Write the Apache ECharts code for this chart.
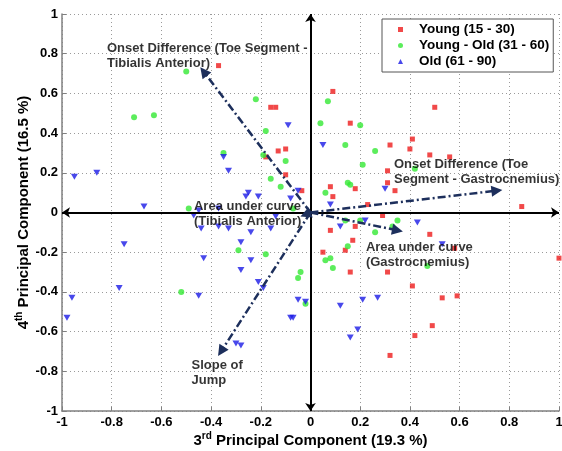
<!DOCTYPE html>
<html>
<head>
<meta charset="utf-8">
<script src="https://cdn.jsdelivr.net/npm/echarts@6/dist/echarts.min.js"></script>
<style>
  html, body { margin: 0; padding: 0; background: #fff; }
  #chart { width: 562px; height: 451px; }
</style>
</head>
<body>
<div id="chart"></div>
<script>
// PC3 / PC4 scores
var young = [
  [-0.37, 0.74], [-0.16, 0.53], [-0.14, 0.53], [-0.18, 0.28], [-0.13, 0.31],
  [-0.10, 0.32], [-0.10, 0.19], [-0.035, 0.11], [0.09, 0.61], [0.50, 0.53],
  [0.16, 0.45], [0.32, 0.34], [0.41, 0.37], [0.40, 0.32], [0.48, 0.29],
  [0.56, 0.28], [0.31, 0.21], [0.31, 0.15], [0.34, 0.11], [0.08, 0.13],
  [0.18, 0.12], [0.09, 0.08], [0.23, 0.04], [0.85, 0.03], [0.29, -0.015],
  [0.08, -0.09], [0.18, -0.07], [0.48, -0.11], [0.17, -0.14], [0.14, -0.19],
  [0.58, -0.18], [0.05, -0.20], [0.16, -0.30], [0.31, -0.30], [1.0, -0.23],
  [0.41, -0.37], [0.53, -0.43], [0.59, -0.42], [0.49, -0.57], [0.42, -0.62],
  [0.32, -0.72]
];
var youngOld = [
  [-0.50, 0.71], [-0.71, 0.48], [-0.63, 0.49], [-0.22, 0.57], [-0.18, 0.41],
  [-0.35, 0.30], [-0.19, 0.29], [-0.10, 0.26], [-0.16, 0.17], [-0.12, 0.13],
  [-0.49, 0.02], [-0.07, 0.02], [0.07, 0.56], [0.04, 0.45], [0.20, 0.44],
  [0.14, 0.34], [0.26, 0.31], [0.21, 0.24], [0.42, 0.22], [0.15, 0.15],
  [0.16, 0.14], [0.06, 0.10], [0.14, -0.04], [0.20, -0.04], [0.35, -0.04],
  [0.33, -0.07], [0.26, -0.10], [0.15, -0.17], [0.06, -0.24], [0.08, -0.23],
  [0.09, -0.28], [0.47, -0.27], [-0.29, -0.19], [-0.18, -0.21], [-0.04, -0.30],
  [-0.05, -0.33], [-0.52, -0.40], [-0.02, -0.46]
];
var old = [
  [-0.09, 0.44], [-0.35, 0.28], [-0.33, 0.21], [-0.95, 0.18], [-0.86, 0.20],
  [-0.67, 0.03], [-0.25, 0.10], [-0.26, 0.08], [-0.21, 0.08], [-0.05, 0.11],
  [-0.08, 0.07], [-0.45, 0.01], [-0.37, 0.02], [-0.47, -0.015], [-0.44, -0.08],
  [-0.37, -0.07], [-0.33, -0.08], [-0.24, -0.10], [-0.16, -0.08], [-0.14, -0.02],
  [-0.28, -0.15], [-0.43, -0.23], [-0.24, -0.24], [-0.28, -0.29], [-0.21, -0.35],
  [-0.19, -0.38], [-0.45, -0.42], [-0.05, -0.44], [-0.02, -0.45], [-0.08, -0.53],
  [-0.07, -0.53], [-0.75, -0.16], [-0.77, -0.38], [-0.96, -0.43], [-0.98, -0.53],
  [-0.30, -0.66], [-0.28, -0.67], [0.05, 0.34], [0.30, 0.12], [0.08, 0.04],
  [0.12, -0.07], [0.22, -0.04], [0.43, -0.05], [0.53, -0.16], [0.12, -0.47],
  [0.21, -0.44], [0.27, -0.43], [0.19, -0.59], [0.16, -0.63]
];

// loading vectors (tips)
var vectorTips = [
  [-0.43, 0.71], [0.75, 0.11], [0.35, -0.09], [-0.36, -0.70], [-0.02, -0.01]
];
// variable names and where their text sits
var vectorNames = [
  'Onset Difference (Toe Segment -\nTibialis Anterior)',
  'Onset Difference (Toe\nSegment - Gastrocnemius)',
  'Area under curve\n(Gastrocnemius)',
  'Slope of\nJump',
  'Area under curve\n(Tibialis Anterior)'
];
var namePos = [
  [-0.819, 0.79], [0.336, 0.202], [0.223, -0.216], [-0.479, -0.808], [-0.469, -0.009]
];

var ticks = [-1, 1, 0.2];
var FONT = 'Arial, "Liberation Sans", sans-serif';

var myChart = echarts.init(document.getElementById('chart'), null, { renderer: 'canvas' });

var vecLines = vectorTips.map(function (t) {
  return { coords: [[0, 0], t] };
});
var nameData = namePos.map(function (p, i) {
  return { value: p, name: vectorNames[i] };
});

function axisOf(name, gap, rot) {
  return {
    type: 'value',
    min: ticks[0],
    max: ticks[1],
    interval: ticks[2],
    name: name,
    nameLocation: 'middle',
    nameGap: gap,
    nameRotate: rot,
    nameMoveOverlap: false,
    nameTextStyle: {
      fontFamily: FONT, fontWeight: 'bold', fontSize: 15, color: '#000',
      rich: {
        n: { fontFamily: FONT, fontWeight: 'bold', fontSize: 15, color: '#000', verticalAlign: 'bottom', lineHeight: 18 },
        s: { fontFamily: FONT, fontWeight: 'bold', fontSize: 10, color: '#000', verticalAlign: 'bottom', lineHeight: 18, padding: [0, 0, 7, 0] }
      }
    },
    axisLine: { show: true, onZero: false, lineStyle: { color: '#808080', width: 1.5 } },
    axisTick: { show: true, inside: true, length: 4, lineStyle: { color: '#808080' } },
    axisLabel: {
      fontFamily: FONT, fontWeight: 'bold', fontSize: 13, color: '#000', margin: rot ? 4 : 5,
      showMinLabel: true, showMaxLabel: true
    },
    splitLine: { show: true, lineStyle: { color: '#9a9a9a', type: [1, 3], width: 1 } }
  };
}

var option = {
  animation: false,
  backgroundColor: '#fff',
  grid: { left: 62, right: 3, top: 14, bottom: 40, outerBoundsMode: 'none', containLabel: false },
  xAxis: axisOf('{n|3}{s|rd}{n| Principal Component (19.3 %)}', 19, 0),
  yAxis: axisOf('{n|4}{s|th}{n| Principal Component (16.5 %)}', 31, 90),
  legend: {
    orient: 'vertical',
    left: 382,
    top: 19,
    backgroundColor: '#fff',
    borderColor: '#555',
    borderWidth: 1,
    borderRadius: 0,
    padding: [3, 4, 3, 16],
    itemGap: 1,
    itemWidth: 5,
    itemHeight: 5,
    textStyle: { fontFamily: FONT, fontWeight: 'bold', fontSize: 13.5, color: '#000', lineHeight: 15, padding: [0, 0, 0, 11] },
    data: ['Young (15 - 30)', 'Young - Old (31 - 60)', 'Old (61 - 90)']
  },
  series: [
    {
      name: 'Young (15 - 30)', type: 'scatter', symbol: 'rect', symbolSize: 5,
      itemStyle: { color: '#ee1c1c' }, data: young, z: 2
    },
    {
      name: 'Young - Old (31 - 60)', type: 'scatter', symbol: 'circle', symbolSize: 6,
      itemStyle: { color: '#33e833' }, data: youngOld, z: 2
    },
    {
      name: 'Old (61 - 90)', type: 'scatter', symbol: 'triangle', symbolRotate: 180, symbolSize: [7, 6],
      itemStyle: { color: '#1a1ae6' }, data: old, z: 2
    },
    {
      // main axes through the origin
      type: 'lines', coordinateSystem: 'cartesian2d', silent: true, z: 4,
      symbol: ['arrow', 'arrow'], symbolSize: 8,
      lineStyle: { color: '#000', width: 2, opacity: 1 },
      data: [{ coords: [[-1, 0], [1, 0]] }, { coords: [[0, -1], [0, 1]] }]
    },
    {
      type: 'lines', coordinateSystem: 'cartesian2d', silent: true, z: 5,
      symbol: ['none', 'triangle'], symbolSize: 11,
      lineStyle: { color: '#1d2f5c', width: 2.5, opacity: 1, type: [8, 3, 2, 3] },
      data: vecLines
    },
    {
      type: 'scatter', silent: true, symbolSize: 0, z: 6,
      label: {
        show: true, position: 'right', distance: 0,
        formatter: function (p) { return p.name; },
        fontFamily: FONT, fontWeight: 'bold', fontSize: 13, lineHeight: 15, color: '#000'
      },
      data: nameData
    }
  ]
};

myChart.setOption(option, true);
window.addEventListener('resize', myChart.resize);
</script>
</body>
</html>
